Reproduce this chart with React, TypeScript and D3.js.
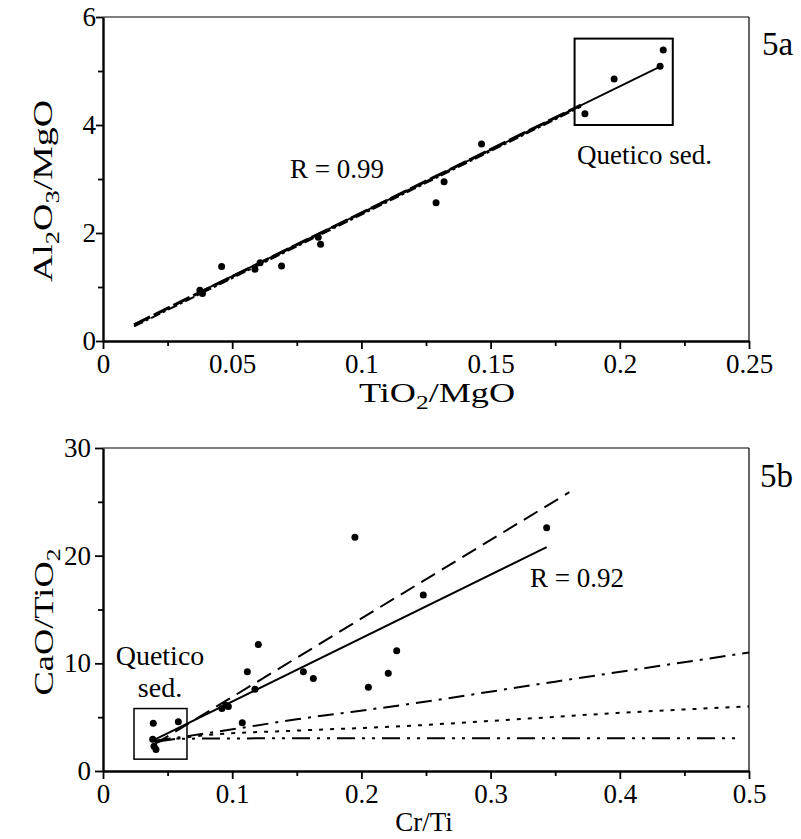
import React, { useEffect, useRef } from "react";
import * as d3 from "d3";

// ---------- Data: panel 5a ----------
const aPointsX = [0.0375, 0.0385, 0.0459, 0.0588, 0.0608, 0.0691, 0.0833, 0.0842, 0.1289, 0.132, 0.1465, 0.1865, 0.1978, 0.2156, 0.2168];
const aPointsY = [0.94, 0.88, 1.38, 1.33, 1.45, 1.39, 1.92, 1.79, 2.56, 2.95, 3.65, 4.21, 4.85, 5.09, 5.39];
const aRegX = [0.038, 0.216];
const aRegY = [0.92, 5.09];
const aMixX = [0.012, 0.185];
const aMixY = [0.3, 4.37];
const aBoxX = [0.1825, 0.2205];
const aBoxY = [4.0, 5.6];
const aXMajor = [0, 0.05, 0.1, 0.15, 0.2, 0.25];
const aXLabels = ["0", "0.05", "0.1", "0.15", "0.2", "0.25"];
const aXMinor = [0.025, 0.075, 0.125, 0.175, 0.225];
const aYMajor = [0, 2, 4, 6];
const aYMinor = [1, 3, 5];

// ---------- Data: panel 5b ----------
const bPointsX = [0.0389, 0.0583, 0.0385, 0.0395, 0.041, 0.092, 0.095, 0.097, 0.1078, 0.1117, 0.1202, 0.1176, 0.1551, 0.1628, 0.1950, 0.2054, 0.2208, 0.2273, 0.2479, 0.3434];
const bPointsY = [4.43, 4.58, 2.94, 2.3, 2.0, 5.8, 6.1, 6.0, 4.49, 9.22, 11.76, 7.59, 9.22, 8.6, 21.7, 7.77, 9.07, 11.17, 16.34, 22.6];
const bSolidX = [0.038, 0.3434];
const bSolidY = [2.8, 20.8];
const bDashX = [0.04, 0.361];
const bDashY = [2.5, 25.9];
const bDashDotX = [0.04, 0.08, 0.15, 0.23, 0.35, 0.5];
const bDashDotY = [2.8, 3.5, 4.8, 6.1, 8.3, 11.0];
const bDotX = [0.04, 0.077, 0.15, 0.23, 0.3, 0.4, 0.5];
const bDotY = [2.7, 3.3, 3.75, 4.15, 4.65, 5.4, 6.0];
const bDashDotDotX = [0.042, 0.06, 0.2, 0.493];
const bDashDotDotY = [2.7, 3.0, 3.05, 3.05];
const bBoxX = [0.024, 0.065];
const bBoxY = [1.1, 5.8];
const bXMajor = [0, 0.1, 0.2, 0.3, 0.4, 0.5];
const bXLabels = ["0", "0.1", "0.2", "0.3", "0.4", "0.5"];
const bXMinor = [0.05, 0.15, 0.25, 0.35, 0.45];
const bYMajor = [0, 10, 20, 30];
const bYMinor = [5, 15, 25];

const FONT = "'Liberation Serif', 'Times New Roman', serif";

type AxisProps = {
  kind: "left" | "bottom";
  scale: d3.ScaleLinear<number, number>;
  major: number[];
  labels: string[];
  minor: number[];
  tx: number;
  ty: number;
  majorSize: number;
  padding: number;
};

function Axis({ kind, scale, major, labels, minor, tx, ty, majorSize, padding }: AxisProps) {
  const ref = useRef<SVGGElement>(null);
  useEffect(() => {
    const g = d3.select(ref.current);
    g.selectAll("*").remove();
    const mk = kind === "left" ? d3.axisLeft : d3.axisBottom;
    const minorAxis = mk(scale).tickValues(minor).tickSize(5).tickSizeOuter(0).tickFormat(() => "");
    const majorAxis = mk(scale)
      .tickValues(major)
      .tickSize(majorSize)
      .tickSizeOuter(0)
      .tickPadding(padding)
      .tickFormat((_d, i) => labels[i]);
    const gm = g.append("g").call(minorAxis as any);
    gm.select(".domain").remove();
    gm.selectAll("line").attr("stroke", "#000").attr("stroke-width", 1.8);
    const ga = g.append("g").call(majorAxis as any);
    ga.select(".domain").attr("stroke", "#000").attr("stroke-width", 2.4);
    ga.selectAll("line").attr("stroke", "#000").attr("stroke-width", 1.8);
    ga.attr("font-family", FONT).attr("font-size", 27);
    ga.selectAll("text").attr("fill", "#000");
  }, [kind, scale, major, labels, minor, majorSize, padding]);
  return <g ref={ref} transform={`translate(${tx},${ty})`} />;
}

export default function App() {
  const left = 103;
  const right = 749;
  // Panel a
  const aTop = 17;
  const aBottom = 341;
  const xa = d3.scaleLinear().domain([0, 0.25]).range([left, right]);
  const ya = d3.scaleLinear().domain([0, 6]).range([aBottom, aTop]);
  // Panel b
  const bTop = 448;
  const bBottom = 771;
  const xb = d3.scaleLinear().domain([0, 0.5]).range([left, right]);
  const yb = d3.scaleLinear().domain([0, 30]).range([bBottom, bTop]);

  const lineA = d3.line<[number, number]>().x((d) => xa(d[0])).y((d) => ya(d[1]));
  const lineB = d3
    .line<[number, number]>()
    .x((d) => xb(d[0]))
    .y((d) => yb(d[1]))
    .curve(d3.curveMonotoneX);
  const zip = (xs: number[], ys: number[]) => xs.map((x, i) => [x, ys[i]] as [number, number]);

  const textStyle = { fontFamily: FONT, fill: "#000" } as const;

  return (
    <svg width={801} height={839} style={{ position: "absolute", left: 0, top: 0, background: "#fff" }}>
      <rect x={0} y={0} width={801} height={839} fill="#fff" />

      {/* ===== Panel 5a ===== */}
      <line x1={left} y1={aTop} x2={right} y2={aTop} stroke="#000" strokeWidth={1.2} />
      <line x1={right} y1={aTop} x2={right} y2={aBottom} stroke="#000" strokeWidth={1.2} />
      <Axis kind="left" scale={ya} major={aYMajor} labels={aYMajor.map(String)} minor={aYMinor} tx={left} ty={0} majorSize={7} padding={0} />
      <Axis kind="bottom" scale={xa} major={aXMajor} labels={aXLabels} minor={aXMinor} tx={0} ty={aBottom} majorSize={8} padding={5} />

      <path d={lineA(zip(aMixX, aMixY)) || ""} fill="none" stroke="#000" strokeWidth={3} strokeDasharray="18 4" />
      <path d={lineA(zip(aMixX, aMixY.map((v) => v - 0.03))) || ""} fill="none" stroke="#000" strokeWidth={2} strokeDasharray="10 3 3 3" />
      <path d={lineA(zip(aRegX, aRegY)) || ""} fill="none" stroke="#000" strokeWidth={1.8} />
      {aPointsX.map((x, i) => (
        <circle key={`a${i}`} cx={xa(x)} cy={ya(aPointsY[i])} r={3.5} fill="#000" />
      ))}
      <rect
        x={xa(aBoxX[0])}
        y={ya(aBoxY[1])}
        width={xa(aBoxX[1]) - xa(aBoxX[0])}
        height={ya(aBoxY[0]) - ya(aBoxY[1])}
        fill="none"
        stroke="#000"
        strokeWidth={2}
      />
      <text x={577} y={164} fontSize={27} style={textStyle}>Quetico sed.</text>
      <text x={290} y={178} fontSize={27} style={textStyle}>R = 0.99</text>
      <text x={762} y={55} fontSize={33} style={textStyle}>5a</text>

      <text transform="translate(437,402) scale(1.34,1)" textAnchor="middle" fontSize={27} style={textStyle}>
        TiO<tspan fontSize={19} dy={7}>2</tspan>
        <tspan dy={-7}>/MgO</tspan>
      </text>
      <text transform="translate(52,191) rotate(-90) scale(1.4,1)" textAnchor="middle" fontSize={27} style={textStyle}>
        Al<tspan fontSize={19} dy={7}>2</tspan>
        <tspan dy={-7}>O</tspan>
        <tspan fontSize={19} dy={7}>3</tspan>
        <tspan dy={-7}>/MgO</tspan>
      </text>

      {/* ===== Panel 5b ===== */}
      <line x1={left} y1={bTop} x2={right} y2={bTop} stroke="#000" strokeWidth={1.2} />
      <line x1={right} y1={bTop} x2={right} y2={bBottom} stroke="#000" strokeWidth={1.2} />
      <Axis kind="left" scale={yb} major={bYMajor} labels={bYMajor.map(String)} minor={bYMinor} tx={left} ty={0} majorSize={8} padding={4} />
      <Axis kind="bottom" scale={xb} major={bXMajor} labels={bXLabels} minor={bXMinor} tx={0} ty={bBottom} majorSize={8} padding={5} />

      <path d={lineB(zip(bDashDotDotX, bDashDotDotY)) || ""} fill="none" stroke="#000" strokeWidth={2} strokeDasharray="18 7 3 7 3 7" />
      <path d={lineB(zip(bDotX, bDotY)) || ""} fill="none" stroke="#000" strokeWidth={2} strokeDasharray="4 7" />
      <path d={lineB(zip(bDashDotX, bDashDotY)) || ""} fill="none" stroke="#000" strokeWidth={2} strokeDasharray="16 7 3 7" />
      <path d={lineB(zip(bDashX, bDashY)) || ""} fill="none" stroke="#000" strokeWidth={2} strokeDasharray="16 8" />
      <path d={lineB(zip(bSolidX, bSolidY)) || ""} fill="none" stroke="#000" strokeWidth={2} />
      {bPointsX.map((x, i) => (
        <circle key={`b${i}`} cx={xb(x)} cy={yb(bPointsY[i])} r={3.5} fill="#000" />
      ))}
      <rect
        x={xb(bBoxX[0])}
        y={yb(bBoxY[1])}
        width={xb(bBoxX[1]) - xb(bBoxX[0])}
        height={yb(bBoxY[0]) - yb(bBoxY[1])}
        fill="none"
        stroke="#000"
        strokeWidth={1.5}
      />
      <text x={160} y={665} textAnchor="middle" fontSize={28} style={textStyle}>Quetico</text>
      <text x={160} y={697} textAnchor="middle" fontSize={28} style={textStyle}>sed.</text>
      <text x={530} y={587} fontSize={27} style={textStyle}>R = 0.92</text>
      <text x={760} y={487} fontSize={33} style={textStyle}>5b</text>

      <text x={424} y={831} textAnchor="middle" fontSize={27} style={textStyle}>Cr/Ti</text>
      <text transform="translate(53,622) rotate(-90) scale(1.35,1)" textAnchor="middle" fontSize={27} style={textStyle}>
        CaO/TiO<tspan fontSize={19} dy={7}>2</tspan>
      </text>
    </svg>
  );
}
